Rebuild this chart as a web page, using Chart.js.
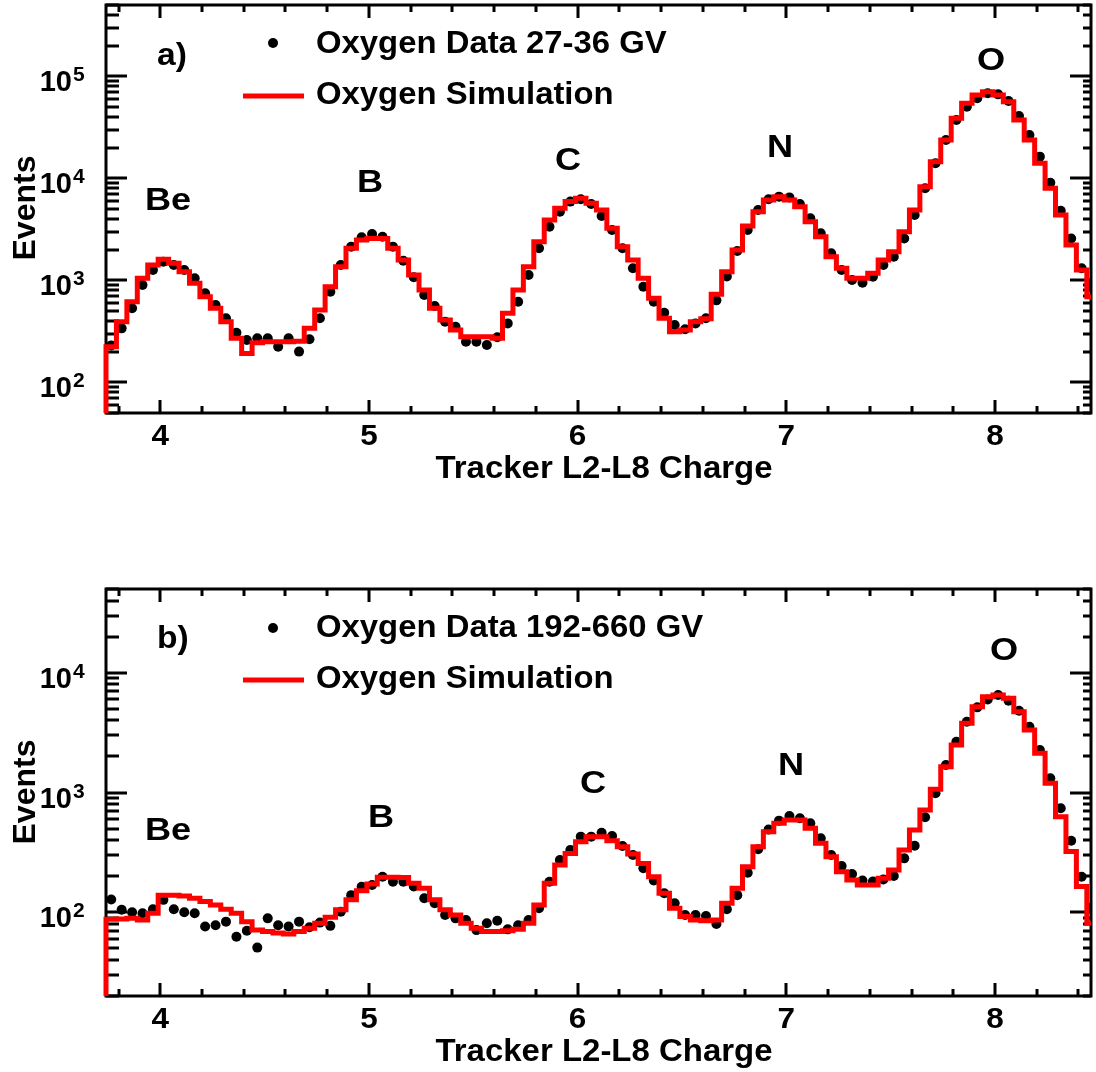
<!DOCTYPE html>
<html><head><meta charset="utf-8">
<script src="https://cdn.jsdelivr.net/npm/chart.js@4/dist/chart.umd.min.js"></script>
<style>
html,body{margin:0;padding:0;background:#fff;width:1096px;height:1072px;overflow:hidden}
.p{position:absolute;left:0}
canvas{display:block}
</style></head><body>
<div class="p" style="top:0"><canvas id="ca" width="1096" height="540"></canvas></div>
<div class="p" style="top:540px"><canvas id="cb" width="1096" height="532"></canvas></div>
<script>
// ---- data ----
const binEdgeStart = 3.74;
const binWidth = 0.05;
const xTickLabels = ['4', '5', '6', '7', '8'];
const elementNames = ['Be', 'B', 'C', 'N', 'O'];
const legendDataA = 'Oxygen Data 27-36 GV';
const legendDataB = 'Oxygen Data 192-660 GV';
const legendSim = 'Oxygen Simulation';
const xTitle = 'Tracker L2-L8 Charge';
const yTitle = 'Events';
const yDecadesA = [2, 3, 4, 5];
const yDecadesB = [2, 3, 4];

const simA = [223,393,617,1047,1411,1607,1468,1214,933,690,531,393,270,192,244,250,250,250,252,338,
  512,865,1359,2060,2485,2572,2572,2060,1581,1127,803,531,408,326,280,280,280,270,474,803,
  1359,2388,3899,5079,5906,6368,5685,4889,3235,2138,1581,1047,667,424,313,326,393,420,730,1214,
  1983,3400,4699,6120,6607,6120,5270,3760,2675,1702,1312,1047,1047,1172,1581,1905,2994,4889,8279,14550,
  23730,38730,54330,65560,70680,65560,56360,37240,23730,14030,7980,4365,2220,1262,690];
const dataA = [230,338,531,900,1262,1520,1411,1262,1047,746,573,424,306,260,270,270,223,270,200,264,
  424,773,1411,2138,2642,2843,2675,2138,1555,1069,718,560,393,351,250,250,232,276,378,617,
  1127,2060,3350,4699,5906,6220,5600,4265,3112,2060,1312,865,617,481,365,331,378,424,636,1090,
  1940,3112,4889,6230,6607,6500,5600,4055,2891,1841,1262,1007,946,1084,1411,1702,2572,4365,7980,14030,
  23730,37240,50360,60800,68100,66500,57300,40800,26600,16300,9060,4810,2572,1312,900];
const simB = [87.5,88,89,86,98,139,139,137,131,123,115,106,98,83.5,71,69,67,66,69,73.5,
  81,91,105,127,151,172,196,196,195,175,159,127,105,95,81,73.5,69,69,70,72,
  81,115,175,248,310,388,428,428,396,353,307,256,198,144,108,92,86,85,86,119,
  159,240,353,471,553,589,589,502,377,291,218,186,169,169,192,225,331,486,714,1064,
  1641,2494,3785,5200,6310,6516,6110,4730,3325,2123,1194,628,321,164,81];
const dataB = [128,105,100,98,106,127,106,100,98,76,78,83.5,62.5,70,50.7,89,78,76,83.5,75,
  82,77,101,139,163,169,198,180,180,164,131,119,95,89,86,71,81,85,72,78,
  86,108,180,273,331,428,428,461,433,357,301,233,184,144,119,95,95,93,80,106,
  139,214,336,490,582,637,609,553,415,301,243,209,184,181,188,201,282,359,621,984,
  1698,2655,3900,5140,5990,6516,5840,4820,3540,2264,1313,738,396,198,110];

// ---- helpers ----
const FONT = '"Liberation Sans", Arial, Helvetica, sans-serif';
function histPoints(vals, floor) {
  const pts = [{x: binEdgeStart, y: floor}];
  vals.forEach((v, k) => pts.push({x: +(binEdgeStart + k * binWidth).toFixed(3), y: v}));
  pts.push({x: +(binEdgeStart + vals.length * binWidth).toFixed(3), y: vals[vals.length - 1]});
  return pts;
}
function centerPoints(vals) {
  return vals.map((v, k) => ({x: +(binEdgeStart + (k + 0.5) * binWidth).toFixed(3), y: v}));
}
function txt(ctx, s, x, y, size, align, sx) {
  ctx.save();
  ctx.font = 'bold ' + size + 'px ' + FONT;
  ctx.fillStyle = '#000';
  ctx.textAlign = align || 'left';
  ctx.textBaseline = 'alphabetic';
  ctx.translate(x, y);
  ctx.scale(sx || 1, 1);
  ctx.fillText(s, 0, 0);
  ctx.restore();
}

function framePlugin(L) {
  return {
    id: 'frame',
    beforeDatasetsDraw(chart) {
      const ctx = chart.ctx, xs = chart.scales.x, ys = chart.scales.y;
      const {left, right, top, bottom} = chart.chartArea;
      ctx.save();
      ctx.strokeStyle = '#000';
      ctx.lineWidth = 3;
      ctx.lineCap = 'butt';
      ctx.strokeRect(left, top, right - left, bottom - top);
      ctx.beginPath();
      for (let i = 19; i <= 42; i++) {
        const v = i * 0.2;
        const px = Math.round(xs.getPixelForValue(v));
        const len = (i % 5 === 0) ? 13 : 7;
        ctx.moveTo(px, bottom); ctx.lineTo(px, bottom - len);
        ctx.moveTo(px, top); ctx.lineTo(px, top + len);
      }
      const d0 = Math.floor(Math.log10(ys.min)), d1 = Math.ceil(Math.log10(ys.max));
      for (let d = d0; d <= d1; d++) {
        for (let m = 1; m <= 9; m++) {
          const v = m * Math.pow(10, d);
          if (v < ys.min || v > ys.max) continue;
          const py = Math.round(ys.getPixelForValue(v));
          ctx.moveTo(left, py); ctx.lineTo(left + (m === 1 ? 21 : 13), py);
          ctx.moveTo(right, py); ctx.lineTo(right - (m === 1 ? 21 : 8), py);
        }
      }
      ctx.stroke();
      ctx.restore();
    },
    afterDraw(chart) {
      const ctx = chart.ctx, xs = chart.scales.x, ys = chart.scales.y;
      // x tick labels
      xTickLabels.forEach(t => {
        txt(ctx, t, xs.getPixelForValue(Number(t)), L.xTickBase, 30, 'center', 1.05);
      });
      // y tick labels
      L.decades.forEach(d => {
        const py = ys.getPixelForValue(Math.pow(10, d));
        txt(ctx, '10', 72, py + 15, 29, 'right', 1.0);
        txt(ctx, String(d), 73, py + 5, 21, 'left');
      });
      // axis titles
      txt(ctx, xTitle, 604, L.xTitleBase, 32, 'center', 1.03);
      ctx.save();
      ctx.translate(35, L.yTitleCenter);
      ctx.rotate(-Math.PI / 2);
      txt(ctx, yTitle, 0, 0, 32, 'center');
      ctx.restore();
      // panel tag
      txt(ctx, L.tag, 157, L.tagBase, 32, 'left', 1.05);
      // element labels
      elementNames.forEach((n, i) => txt(ctx, n, L.el[i][0], L.el[i][1], 32, 'left', 1.13));
      // legend
      ctx.save();
      ctx.fillStyle = '#000';
      ctx.beginPath(); ctx.arc(273, L.legDot, 5, 0, 2 * Math.PI); ctx.fill();
      ctx.strokeStyle = '#ff0000'; ctx.lineWidth = 5;
      ctx.beginPath(); ctx.moveTo(243, L.legLine); ctx.lineTo(304, L.legLine); ctx.stroke();
      ctx.restore();
      txt(ctx, L.legData, 316, L.legBase1, 31, 'left', 1.06);
      txt(ctx, legendSim, 316, L.legBase2, 31, 'left', 1.06);
    }
  };
}

function makePanel(id, sim, data, yMin, yMax, pad, L) {
  return new Chart(document.getElementById(id), {
    type: 'line',
    data: {
      datasets: [
        {label: legendSim, data: histPoints(sim, yMin / 3), stepped: true, borderColor: '#ff0000',
         borderWidth: 5, pointRadius: 0, fill: false, borderJoinStyle: 'miter',
         clip: {left: 4, right: 0, top: 0, bottom: 0}},
        {label: L.legData, data: centerPoints(data), showLine: false, pointRadius: 5,
         pointBackgroundColor: '#000', pointBorderWidth: 0, borderColor: '#000'}
      ]
    },
    options: {
      responsive: false, animation: false, devicePixelRatio: 1,
      layout: {padding: pad},
      plugins: {legend: {display: false}, tooltip: {enabled: false}},
      scales: {
        x: {type: 'linear', min: 3.74, max: 8.46, display: false},
        y: {type: 'logarithmic', min: yMin, max: yMax, display: false}
      }
    },
    plugins: [framePlugin(L)]
  });
}

makePanel('ca', simA, dataA, 50, 5e5, {left: 106, top: 5, right: 1, bottom: 127}, {
  decades: yDecadesA, xTickBase: 445, xTitleBase: 478, yTitleCenter: 208,
  tag: 'a)', tagBase: 65,
  el: [[145, 210], [357, 192], [555, 170], [767, 157], [977, 70]],
  legDot: 43, legLine: 96, legBase1: 53, legBase2: 104, legData: legendDataA
});
makePanel('cb', simB, dataB, 20, 5e4, {left: 106, top: 49, right: 1, bottom: 76}, {
  decades: yDecadesB, xTickBase: 488, xTitleBase: 521, yTitleCenter: 252,
  tag: 'b)', tagBase: 108,
  el: [[145, 300], [368, 287], [580, 253], [778, 235], [990, 120]],
  legDot: 88, legLine: 140, legBase1: 97, legBase2: 148, legData: legendDataB
});
</script>
</body></html>
